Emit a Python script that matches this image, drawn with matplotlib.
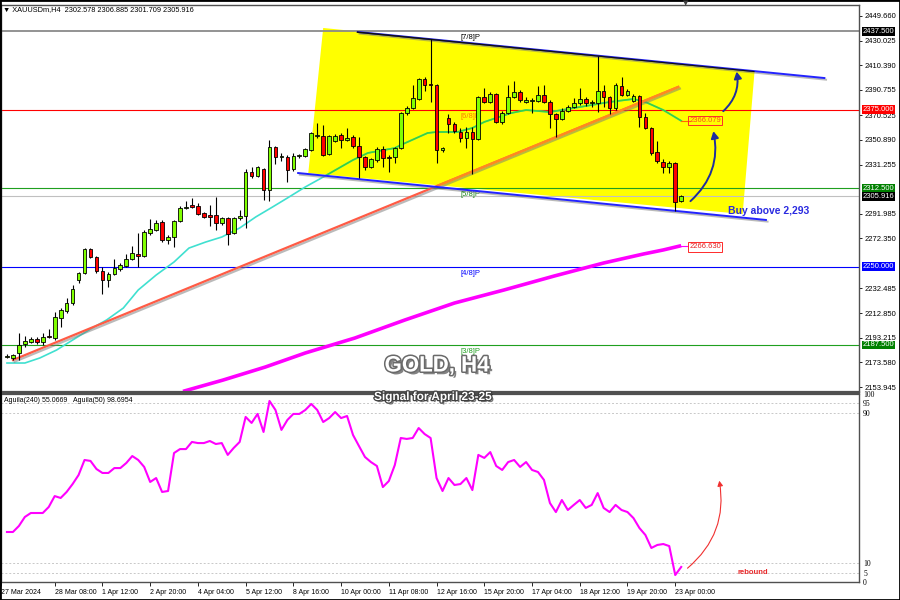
import numpy as np
import matplotlib
matplotlib.use("Agg")
import matplotlib.pyplot as plt
import matplotlib.patheffects as pe
import matplotlib.transforms as mtransforms
from matplotlib.patches import Polygon, FancyArrowPatch, Rectangle

plt.rcParams['font.family'] = ['Liberation Sans', 'DejaVu Sans']

# ---- H4 candles, XAUUSD 27 Mar - 23 Apr 2024 ----
opens = [2177.9, 2177.1, 2181.1, 2188.2, 2189.8, 2192.2, 2189.8, 2194.6, 2193.0, 2209.0,
         2214.5, 2220.9, 2239.2, 2244.8, 2263.9, 2257.6, 2246.4, 2239.2, 2244.0, 2248.0,
         2250.4, 2256.0, 2260.0, 2258.4, 2276.7, 2279.1, 2285.5, 2271.1, 2273.5, 2286.3,
         2296.6, 2299.0, 2298.2, 2292.6, 2291.0, 2291.0, 2284.7, 2288.7, 2276.7, 2288.7,
         2290.2, 2325.3, 2322.1, 2327.7, 2311.0, 2345.2, 2337.3, 2337.3, 2327.7, 2338.1,
         2338.1, 2342.8, 2354.0, 2354.0, 2339.7, 2350.0, 2354.8, 2350.8, 2353.2, 2346.0,
         2337.3, 2329.3, 2334.9, 2343.6, 2337.3, 2337.3, 2344.4, 2372.3, 2376.3, 2383.5,
         2399.4, 2395.5, 2394.7, 2342.8, 2368.4, 2363.6, 2357.2, 2352.4, 2357.2, 2351.6,
         2385.1, 2381.1, 2387.5, 2365.2, 2372.3, 2385.1, 2389.1, 2381.1, 2381.9, 2381.9,
         2386.7, 2381.1, 2371.5, 2367.6, 2373.9, 2377.1, 2380.3, 2383.5, 2380.3, 2380.3,
         2389.9, 2385.1, 2376.3, 2393.9, 2386.7, 2381.9, 2385.9, 2369.2, 2360.4, 2341.3,
         2333.3, 2329.3, 2332.5, 2302.578]
highs = [2180.3, 2180.3, 2197.0, 2194.6, 2193.8, 2193.8, 2197.0, 2200.2, 2213.7, 2216.9,
         2224.9, 2235.3, 2245.6, 2264.7, 2264.7, 2258.4, 2249.6, 2245.6, 2256.0, 2252.8,
         2260.0, 2266.3, 2276.7, 2279.1, 2287.9, 2287.1, 2287.1, 2275.1, 2287.1, 2298.2,
         2302.2, 2304.6, 2300.6, 2293.4, 2299.0, 2305.4, 2289.5, 2289.5, 2289.5, 2295.0,
         2327.7, 2329.3, 2330.1, 2328.5, 2350.8, 2346.0, 2340.5, 2338.9, 2340.5, 2339.7,
         2344.4, 2357.2, 2364.4, 2362.8, 2354.8, 2355.6, 2356.4, 2360.4, 2354.8, 2353.2,
         2338.1, 2336.5, 2345.2, 2346.0, 2338.9, 2345.2, 2373.1, 2377.9, 2394.7, 2400.2,
         2401.0, 2431.3, 2395.5, 2345.2, 2371.5, 2365.2, 2360.4, 2361.2, 2361.2, 2385.9,
         2392.3, 2389.1, 2388.3, 2373.9, 2394.7, 2397.8, 2390.7, 2385.1, 2384.3, 2393.9,
         2394.7, 2382.7, 2372.3, 2376.3, 2378.7, 2384.3, 2392.3, 2385.1, 2382.7, 2417.8,
         2394.7, 2385.9, 2396.2, 2401.0, 2391.5, 2387.5, 2386.7, 2372.3, 2361.2, 2350.0,
         2335.7, 2334.1, 2333.3, 2306.885]
lows = [2177.1, 2175.5, 2175.5, 2185.8, 2189.0, 2188.2, 2187.4, 2193.0, 2191.4, 2201.8,
        2212.9, 2219.3, 2236.8, 2244.0, 2256.8, 2244.8, 2228.1, 2233.7, 2243.2, 2246.4,
        2249.6, 2255.2, 2249.6, 2257.6, 2275.1, 2278.3, 2269.4, 2267.9, 2265.5, 2285.5,
        2295.8, 2296.6, 2291.0, 2288.7, 2282.3, 2279.1, 2283.1, 2267.1, 2275.9, 2287.1,
        2280.7, 2320.5, 2321.3, 2303.0, 2302.2, 2331.7, 2334.1, 2317.3, 2326.1, 2336.5,
        2337.3, 2342.1, 2352.4, 2338.1, 2338.9, 2349.2, 2344.4, 2350.0, 2344.4, 2320.5,
        2326.9, 2328.5, 2333.3, 2329.3, 2325.3, 2332.5, 2343.6, 2370.7, 2375.5, 2382.7,
        2389.9, 2381.1, 2332.5, 2341.3, 2356.4, 2356.4, 2349.2, 2344.4, 2323.7, 2350.8,
        2380.3, 2380.3, 2364.4, 2363.6, 2371.5, 2384.3, 2381.1, 2380.3, 2372.3, 2381.1,
        2380.3, 2360.4, 2353.2, 2366.8, 2373.1, 2376.3, 2378.7, 2377.9, 2377.1, 2373.1,
        2377.1, 2371.5, 2374.7, 2385.9, 2385.9, 2381.1, 2361.2, 2359.6, 2338.9, 2332.5,
        2324.5, 2324.5, 2294.2, 2301.709]
closes = [2178.7, 2179.5, 2187.4, 2190.6, 2192.2, 2189.8, 2193.8, 2193.8, 2209.8, 2215.3,
          2220.9, 2232.1, 2244.8, 2263.9, 2257.6, 2246.4, 2239.2, 2244.0, 2248.8, 2251.2,
          2256.0, 2260.8, 2258.4, 2277.5, 2279.9, 2284.7, 2271.1, 2273.5, 2286.3, 2296.6,
          2296.9, 2297.4, 2291.8, 2289.5, 2289.5, 2284.7, 2288.7, 2275.9, 2288.7, 2290.2,
          2325.3, 2322.1, 2329.3, 2311.0, 2345.2, 2337.3, 2337.6, 2326.9, 2338.1, 2338.4,
          2343.6, 2356.4, 2354.8, 2338.9, 2354.0, 2354.0, 2350.8, 2352.4, 2346.0, 2337.3,
          2329.3, 2335.7, 2343.6, 2336.5, 2336.5, 2344.4, 2372.3, 2376.3, 2384.3, 2399.4,
          2394.7, 2394.7, 2342.8, 2344.4, 2363.6, 2358.0, 2352.4, 2357.2, 2351.6, 2385.1,
          2381.1, 2387.5, 2365.2, 2372.3, 2385.1, 2389.1, 2382.7, 2382.7, 2382.2, 2386.7,
          2381.1, 2371.5, 2367.6, 2373.9, 2377.1, 2380.3, 2383.5, 2380.3, 2380.6, 2389.9,
          2385.1, 2376.3, 2394.7, 2386.7, 2389.9, 2385.9, 2369.2, 2360.4, 2340.5, 2334.1,
          2329.3, 2332.5, 2301.4, 2305.916]

# Aguila oscillator (one value per bar)
aguila = [26.6, 26.6, 29.8, 34.6, 36.7, 36.7, 36.7, 39.9, 45.7, 44.7,
          47.9, 52.1, 56.9, 64.9, 64.4, 60.1, 58.0, 58.0, 60.6, 60.6,
          63.3, 67.0, 64.9, 61.2, 53.2, 55.3, 47.9, 48.4, 68.6, 70.7,
          70.7, 74.5, 73.9, 73.9, 75.0, 73.4, 73.9, 67.6, 71.3, 74.5,
          87.8, 84.6, 89.4, 79.8, 96.3, 91.5, 80.9, 86.2, 89.4, 89.4,
          91.5, 94.7, 91.5, 85.1, 87.2, 90.4, 87.2, 88.3, 78.2, 72.3,
          66.5, 63.8, 61.7, 50.5, 53.7, 62.2, 76.6, 76.1, 76.6, 81.9,
          78.7, 76.6, 55.3, 48.4, 55.3, 51.6, 52.1, 55.3, 48.9, 67.6,
          66.0, 69.1, 61.7, 59.6, 63.8, 64.9, 61.2, 63.8, 59.6, 58.5,
          54.3, 42.0, 37.2, 43.6, 38.3, 41.0, 43.6, 39.4, 41.0, 47.3,
          39.4, 37.2, 41.0, 38.3, 37.2, 34.0, 28.7, 25.0, 18.1, 19.7,
          20.2, 19.1, 3.7, 8.0]

# moving averages, sampled along the drawn curves (bar, price)
ma_fast_bar = [0, 3, 5.5, 8.3, 11, 14, 16.7, 19.5, 22, 25, 28, 30.5, 33.3, 36, 39, 41.7,
               44.5, 47, 50, 53, 58, 60.5, 65, 66, 70.5, 72, 75.5, 78, 80, 82, 84.5, 87,
               91, 95, 98, 101, 105, 107, 110, 113]
ma_fast_val = [2173.1, 2173.1, 2177.1, 2183.4, 2191.4, 2200.2, 2207.4, 2216.9, 2231.3, 2243.2,
               2253.6, 2264.7, 2269.5, 2273.5, 2280.7, 2289.5, 2297.4, 2304.6, 2313.4, 2321.3,
               2334.9, 2340.5, 2344.4, 2346.8, 2356.4, 2357.2, 2357.2, 2360.4, 2365.2, 2368.4,
               2372.3, 2374.7, 2373.1, 2376.3, 2378.7, 2381.1, 2383.5, 2381.1, 2374.7, 2366.1]
ma_slow_bar = [29.5, 36.2, 43.3, 50, 58.3, 66.7, 75, 83.3, 91.7, 100, 106.7, 110, 113]
ma_slow_val = [2150.5, 2159.5, 2169.9, 2181.1, 2193.0, 2207.4, 2220.9, 2231.3, 2242.4,
               2252.8, 2260.0, 2263.2, 2266.6]

# drawn objects (bar, price)
trend_up = ([1.0, 112.5], [2175.5, 2393.1])
chan_top = ([58.8, 137.0], [2436.9, 2400.2])
chan_bot = ([48.8, 127.2], [2324.5, 2287.1])
zone_bar = [53.0, 125.3, 123.3, 50.5]
zone_px = [2440.1, 2405.8, 2291.8, 2324.5]

levels = [2437.5, 2375.0, 2312.5, 2250.0, 2187.5]
level_names = ["[7/8]P", "[6/8]P", "[5/8]P", "[4/8]P", "[3/8]P"]
level_line_colors = ["#8a8a8a", "#ff0000", "#1fa01f", "#0000ff", "#1fa01f"]
level_text_colors = ["#000000", "#ff7a00", "#1a8a1a", "#0000ff", "#1fa01f"]
level_tag_colors = ["#000000", "#ff0000", "#008000", "#0000ff", "#008000"]
last_price = 2305.916

price_ticks = [2449.660, 2430.025, 2410.390, 2390.755, 2370.525, 2350.890, 2331.255,
               2291.985, 2272.350, 2232.485, 2212.850, 2193.215, 2173.580, 2153.945]
time_ticks = [-1, 8, 16, 24, 32, 40, 48, 56, 64, 72, 80, 88, 96, 104, 112]
time_labels = ["27 Mar 2024", "28 Mar 08:00", "1 Apr 12:00", "2 Apr 20:00", "4 Apr 04:00",
               "5 Apr 12:00", "8 Apr 16:00", "10 Apr 00:00", "11 Apr 08:00", "12 Apr 16:00",
               "15 Apr 20:00", "17 Apr 04:00", "18 Apr 12:00", "19 Apr 20:00", "23 Apr 00:00"]
osc_ticks = [100, 95, 90, 10, 5, 0]

W, H = 900, 600


def px_box(x0, y0, x1, y1):
    return [x0 / W, 1 - y1 / H, (x1 - x0) / W, (y1 - y0) / H]


fig = plt.figure(figsize=(9, 6), dpi=100)
ax = fig.add_axes(px_box(1, 5, 859, 392))
ax2 = fig.add_axes(px_box(1, 394, 859, 582), sharex=ax)

o = np.array(opens); h = np.array(highs); l = np.array(lows); c = np.array(closes)
x = np.arange(len(c))

# yellow zone
zone = Polygon(np.column_stack([zone_bar, zone_px]), closed=True, fc="#ffff00", ec="none", zorder=0.5)
ax.add_patch(zone)

# levels
for lv, col in zip(levels, level_line_colors):
    ax.axhline(lv, color=col, lw=1.3 if lv == levels[0] else 0.8, zorder=1)
ax.axhline(last_price, color="#c0c0c0", lw=0.8, zorder=1)
for lv, name, col in zip(levels, level_names, level_text_colors):
    ax.text(76.0, lv - 2.5, name, color=col, fontsize=5.5, va="top", ha="left", zorder=2)

shadow = [pe.SimpleLineShadow(offset=(1.2, -1.2), shadow_color="#777777", alpha=0.5), pe.Normal()]

# moving averages
ax.plot(ma_slow_bar, ma_slow_val, color="#ff00ff", lw=2.6, zorder=2, solid_capstyle="butt")
ax.plot(ma_fast_bar, ma_fast_val, color="#40e0d0", lw=1.2, zorder=2)
ma_in, = ax.plot(ma_fast_bar, ma_fast_val, color="#3cd23c", lw=1.2, zorder=2.1)
ma_in.set_clip_path(zone)

# trend lines
ax.plot(*trend_up, color="#ff5b45", lw=1.6, zorder=3, path_effects=shadow)
tu_in, = ax.plot(*trend_up, color="#ff8a1e", lw=1.6, zorder=3.1)
tu_in.set_clip_path(zone)
ax.plot(*chan_top, color="#2323ff", lw=1.4, zorder=3, path_effects=shadow)
ct_in, = ax.plot(*chan_top, color="#111111", lw=1.4, zorder=3.1)
ct_in.set_clip_path(zone)
ax.plot(*chan_bot, color="#2323ff", lw=1.4, zorder=3, path_effects=shadow)

# candles
up = c >= o
ax.vlines(x, l, h, color="black", lw=0.8, zorder=4)
body = np.maximum(np.abs(c - o), 0.5)
ax.bar(x[up], body[up], bottom=np.minimum(o, c)[up], width=0.62, color="#80ff00",
       edgecolor="black", linewidth=0.6, zorder=5)
ax.bar(x[~up], body[~up], bottom=np.minimum(o, c)[~up], width=0.62, color="#ff0000",
       edgecolor="black", linewidth=0.6, zorder=5)

# price labels for the MAs
ax.plot([113, 114.4], [ma_fast_val[-1]] * 2, color="#ff6a00", lw=0.8, zorder=3)
ax.plot([113, 114.4], [ma_slow_val[-1]] * 2, color="#ff00ff", lw=0.8, zorder=3)
ax.text(114.4, ma_fast_val[-1], "2366.079", fontsize=5.5, color="#ff4b1f", va="center", ha="left",
        bbox=dict(boxstyle="square,pad=0.15", fc="none", ec="#ff2a2a", lw=0.7), zorder=6)
ax.text(114.4, ma_slow_val[-1] - 1.0, "2266.630", fontsize=5.5, color="#e52020", va="center", ha="left",
        bbox=dict(boxstyle="square,pad=0.15", fc="white", ec="#ff2a2a", lw=0.7), zorder=6)

# arrows and signal text
for (p0, p1) in [((114.2, 2300.6), (118.3, 2360.0)), ((119.7, 2372.3), (122.2, 2407.5))]:
    ax.add_patch(FancyArrowPatch(p0, p1, connectionstyle="arc3,rad=0.3", arrowstyle="-|>,head_length=4,head_width=2.2",
                                 color="#1f2e9e", lw=1.4, zorder=7))
ax.text(127.7, 2294.2, "Buy above 2,293", fontsize=7.5, fontweight="bold", color="#2a2ae0",
        ha="center", va="center", zorder=7)

ax.set_xlim(-0.2, 142.8)
ax.set_ylim(2150.0, 2458.4)

# right price axis
ax.yaxis.tick_right()
ax.set_yticks(price_ticks)
ax.set_yticklabels([f"{t:.3f}" for t in price_ticks])
ax.tick_params(axis="y", labelsize=5.5, length=2.5, width=0.6, pad=1.5, colors="black")
ax.tick_params(axis="x", bottom=False, labelbottom=False)
trans = mtransforms.blended_transform_factory(ax.transAxes, ax.transData)
for lv, col in zip(levels + [last_price], level_tag_colors + ["#000000"]):
    ax.text(1.004, lv, f"{lv:.3f}", transform=trans, fontsize=5.5, color="white", va="center", ha="left",
            bbox=dict(boxstyle="square,pad=0.12", fc=col, ec="none"), clip_on=False, zorder=8)

# oscillator panel
for v in [95, 90, 10, 5]:
    ax2.axhline(v, color="#c8c8c8", lw=0.7, ls=(0, (2, 2)), zorder=1)
ax2.plot(x, aguila, color="#ff00ff", lw=1.5, zorder=3)
ax2.add_patch(FancyArrowPatch((113.7, 6.4), (119.3, 55.3), connectionstyle="arc3,rad=0.3",
                              arrowstyle="-|>,head_length=3,head_width=1.6", color="#f03030", lw=0.8, zorder=4))
ax2.text(125.0, 5.0, "rebound", fontsize=5.5, fontweight="bold", color="#e8282a", ha="center", va="center")
ax2.text(0.004, 0.985, "Aguila(240) 55.0669   Aguila(50) 98.6954", transform=ax2.transAxes,
         fontsize=5, va="top", ha="left")
ax2.set_ylim(0, 100)
ax2.yaxis.tick_right()
ax2.set_yticks(osc_ticks)
ax2.set_yticklabels([str(t) for t in osc_ticks], family="Liberation Serif")
ax2.tick_params(axis="y", labelsize=5.5, length=0, pad=3)
ax2.set_xticks(time_ticks)
ax2.set_xticklabels(time_labels)
for lab in ax2.get_xticklabels():
    lab.set_ha("left")
ax2.tick_params(axis="x", labelsize=5, length=3, width=0.6, pad=2, direction="out")

for a in (ax, ax2):
    for s in a.spines.values():
        s.set_color("#505050")
        s.set_linewidth(1.0)
ax.spines["bottom"].set_linewidth(1.6)
ax2.spines["top"].set_linewidth(1.6)

# header and titles
fig.text(3 / W, 1 - 10 / H, "\u25bc XAUUSDm,H4  2302.578 2306.885 2301.709 2305.916", fontsize=5.3,
         va="center", ha="left", family=["Liberation Sans", "DejaVu Sans"])
fig.text(686 / W, 1 - 3 / H, "\u25bc", fontsize=5, color="#404040", va="center", ha="center",
         family=["DejaVu Sans"])
fig.text(437 / W, 1 - 366 / H, "GOLD, H4", fontsize=16, fontweight="bold", color="white",
         ha="center", va="center", zorder=10,
         path_effects=[pe.SimplePatchShadow(offset=(2, -2), shadow_rgbFace="#303030", alpha=0.6),
                       pe.Stroke(linewidth=2.2, foreground="#6a6a6a"), pe.Normal()])
fig.text(433 / W, 1 - 397 / H, "Signal for April 23-25", fontsize=8.5, fontweight="bold", color="white",
         ha="center", va="center", zorder=10,
         path_effects=[pe.SimplePatchShadow(offset=(1.5, -1.5), shadow_rgbFace="#202020", alpha=0.6),
                       pe.Stroke(linewidth=1.8, foreground="#404040"), pe.Normal()])

fig.add_artist(Rectangle((0, 0), 1, 1, transform=fig.transFigure, fill=False, ec="black", lw=2))

fig.savefig("out.png", dpi=100)
